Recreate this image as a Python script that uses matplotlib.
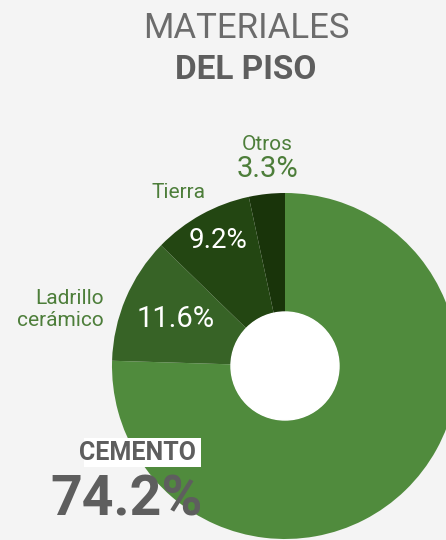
import matplotlib.pyplot as plt
from matplotlib.patches import Rectangle, Circle

# data
categories = ["Cemento", "Ladrillo\ncerámico", "Tierra", "Otros"]
values = [74.2, 11.6, 9.2, 3.3]
colors = ["#508b3d", "#376326", "#234612", "#19340a"]

BG = "#f4f4f4"
GREEN_TXT = "#4d7e3a"
GRAY = "#5e5e5e"
W, H = 446, 540

plt.rcParams["font.family"] = ["Roboto", "DejaVu Sans"]

fig = plt.figure(figsize=(W / 100, H / 100), dpi=100, facecolor=BG)
ax = fig.add_axes([0, 0, 1, 1])
ax.set_facecolor(BG)

# donut, centre and radius in pixel units (y measured from bottom)
cx, cy, r = 285, H - 366, 173
ax.pie(values, colors=colors, startangle=90, counterclock=False,
       center=(cx, cy), radius=r,
       wedgeprops=dict(width=r - 54, linewidth=0))
ax.add_patch(Circle((cx, cy), 54, color="white", zorder=3))

ax.set_xlim(0, W)
ax.set_ylim(0, H)
ax.axis("off")

# title
ax.text(246, H - 29, "MATERIALES", ha="center", va="center",
        fontsize=25, color="#6c6c6c")
ax.text(246, H - 70, "DEL PISO", ha="center", va="center",
        fontsize=24, color=GRAY, fontweight="bold")

# category labels (outside) and percentages
ax.text(267, H - 145, categories[3], ha="center", va="center",
        fontsize=15, color=GREEN_TXT)
ax.text(267, H - 169, f"{values[3]:.1f}%", ha="center", va="center",
        fontsize=21, color=GREEN_TXT)

ax.text(178, H - 193, categories[2], ha="center", va="center",
        fontsize=15, color=GREEN_TXT)
ax.text(218, H - 240, f"{values[2]:.1f}%", ha="center", va="center",
        fontsize=20, color="white")

ax.text(104, H - 310, categories[1], ha="right", va="center",
        fontsize=15, color=GREEN_TXT, linespacing=1.2)
ax.text(176, H - 319, f"{values[1]:.1f}%", ha="center", va="center",
        fontsize=21, color="white")

# cemento label with white box
ax.add_patch(Rectangle((84, H - 467), 117, 29, facecolor="white",
                       edgecolor="none", zorder=4))
ax.text(79, H - 453, categories[0].upper(), ha="left", va="center",
        fontsize=18, color=GRAY, fontweight="bold", zorder=5)
ax.text(127, H - 500, f"{values[0]:.1f}%", ha="center", va="center",
        fontsize=40, color=GRAY, fontweight="bold", zorder=5)

fig.savefig("out.png", dpi=100, facecolor=BG)
